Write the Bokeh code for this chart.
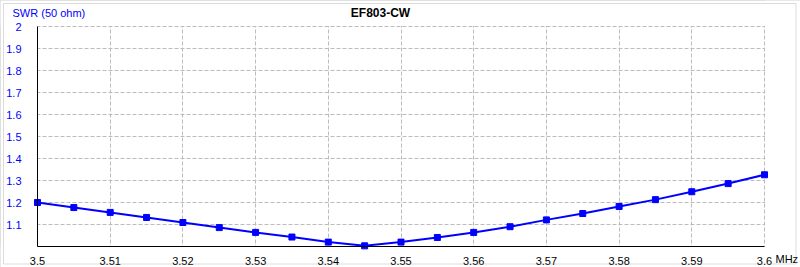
from bokeh.plotting import figure
from bokeh.models import FixedTicker, Label, ColumnDataSource, BoxAnnotation, Range1d
from bokeh.embed import file_html
from bokeh.resources import INLINE

freq = [3.500, 3.505, 3.510, 3.515, 3.520, 3.525, 3.530, 3.535, 3.540, 3.545, 3.550,
        3.555, 3.560, 3.565, 3.570, 3.575, 3.580, 3.585, 3.590, 3.595, 3.600]
swr = [1.200, 1.177, 1.155, 1.132, 1.109, 1.086, 1.064, 1.043, 1.020, 1.003, 1.020,
       1.041, 1.064, 1.090, 1.121, 1.150, 1.182, 1.213, 1.249, 1.286, 1.326]
x_ticks = [3.50, 3.51, 3.52, 3.53, 3.54, 3.55, 3.56, 3.57, 3.58, 3.59, 3.60]
y_ticks = [1.1, 1.2, 1.3, 1.4, 1.5, 1.6, 1.7, 1.8, 1.9, 2.0]
x_min, x_max = 3.5, 3.6
y_min, y_max = 1.0, 2.0
title = "EF803-CW"
y_title = "SWR (50 ohm)"
x_unit = "MHz"

W, H = 800, 267
# plot-area placement inside the canvas (pixels)
L, R, T, B = 37, 764, 26, 246
sx = (x_max - x_min) / (R - L)
sy = (y_max - y_min) / (B - T)
x_range = Range1d(x_min - L * sx, x_max + (W - R) * sx)
y_range = Range1d(y_min - (H - B) * sy, y_max + T * sy)

FONT = "Liberation Sans"
p = figure(width=W, height=H, output_backend="svg", toolbar_location=None,
           x_range=x_range, y_range=y_range,
           min_border_left=0, min_border_right=0, min_border_top=0, min_border_bottom=0)
p.background_fill_color = "white"
p.border_fill_color = "white"
p.outline_line_color = "#d6d6d6"
p.outline_line_width = 6

p.xaxis.ticker = FixedTicker(ticks=x_ticks)
p.yaxis.ticker = FixedTicker(ticks=y_ticks)
p.xaxis.fixed_location = y_min
p.yaxis.fixed_location = x_min
p.xaxis.bounds = (x_min, x_max)
p.yaxis.bounds = (y_min, y_max)
p.xaxis.major_label_overrides = {3.5: "3.5", 3.6: "3.6"}
p.yaxis.major_label_overrides = {2.0: "2"}
for ax in (p.xaxis, p.yaxis):
    ax.axis_line_color = "black"
    ax.axis_line_width = 1
    ax.major_tick_line_color = None
    ax.minor_tick_line_color = None
    ax.major_label_text_font = FONT
    ax.major_label_text_font_size = "11px"
p.xaxis.major_label_text_color = "black"
p.yaxis.major_label_text_color = "#0000ff"
p.xaxis.major_label_standoff = 4
p.yaxis.major_label_standoff = 10

p.xgrid.ticker = FixedTicker(ticks=x_ticks)
p.ygrid.ticker = FixedTicker(ticks=y_ticks)
for g in (p.xgrid, p.ygrid):
    g.grid_line_color = "#bcbcbc"
    g.grid_line_dash = "4 2"
    g.grid_line_width = 1

# white masks so the grid stays inside the plot area
half_px_x = 0.6 * sx
half_px_y = 0.6 * sy
p.add_layout(BoxAnnotation(bottom=y_max + half_px_y, fill_color="white", fill_alpha=1,
                           line_color=None, level="underlay"))
p.add_layout(BoxAnnotation(top=y_min, fill_color="white", fill_alpha=1,
                           line_color=None, level="underlay"))
p.add_layout(BoxAnnotation(right=x_min, fill_color="white", fill_alpha=1,
                           line_color=None, level="underlay"))
p.add_layout(BoxAnnotation(left=x_max + half_px_x, fill_color="white", fill_alpha=1,
                           line_color=None, level="underlay"))

# window frame line
p.add_layout(BoxAnnotation(left=x_range.start + 3 * sx, right=x_range.end - 4.5 * sx,
                           bottom=y_range.start + 3.5 * sy, top=y_range.end - 3 * sy,
                           fill_alpha=0, line_color="#8c8c8c", line_width=1, level="overlay"))

src = ColumnDataSource(dict(x=freq, y=swr))
p.line("x", "y", source=src, line_color="#0000ff", line_width=2)
p.scatter("x", "y", source=src, marker="square", size=6, fill_color="#0000ff", line_color="#0000ff")

p.add_layout(Label(x=380, y=H - 12, x_units="screen", y_units="screen", text=title,
                   text_font=FONT, text_font_size="12px", text_font_style="bold",
                   text_color="black", text_align="center", text_baseline="middle"))
p.add_layout(Label(x=12, y=H - 12, x_units="screen", y_units="screen", text=y_title,
                   text_font=FONT, text_font_size="11px",
                   text_color="#0000ff", text_align="left", text_baseline="middle"))
p.add_layout(Label(x=775, y=H - 258, x_units="screen", y_units="screen", text=x_unit,
                   text_font=FONT, text_font_size="11px",
                   text_color="black", text_align="left", text_baseline="middle"))

open("out.html", "w").write(file_html(p, INLINE))
